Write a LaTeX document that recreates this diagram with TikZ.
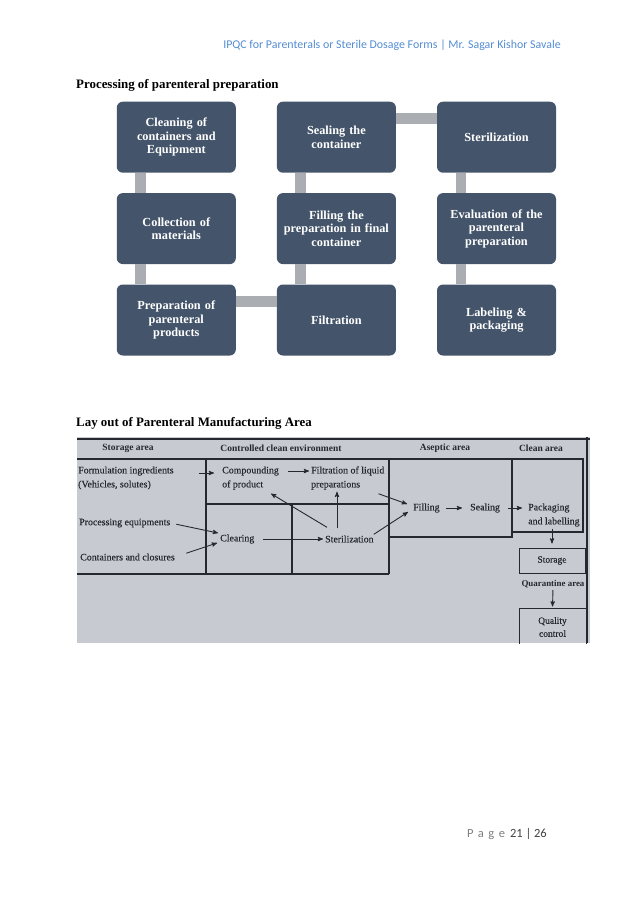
\documentclass[tikz,border=0pt]{standalone}
\usepackage{fontspec}
\setmainfont{Liberation Serif}
\newfontfamily\calibrifont{Carlito}
\newfontfamily\scanfont[FakeBold=0.25]{Liberation Serif}
\usetikzlibrary{arrows, positioning, calc}

\definecolor{boxblue}{RGB}{68,84,106}
\definecolor{bargray}{RGB}{170,173,178}
\definecolor{headblue}{RGB}{84,141,212}
\definecolor{scanbg}{RGB}{199,203,209}
\definecolor{scanink}{RGB}{38,40,48}
\definecolor{pagegray}{RGB}{127,127,127}
\definecolor{pagedark}{RGB}{64,64,64}

\begin{document}
\begin{tikzpicture}[x=1pt, y=-1pt, >=stealth',
    stepbox/.style={rectangle, fill=boxblue, rounded corners=6pt, minimum width=119pt, minimum height=71pt, text width=112pt, align=center, text=white, inner sep=2pt, font=\fontsize{12.3}{13.4}\selectfont\bfseries},
    linkbar/.style={draw=bargray, line width=10.5pt},
    heading/.style={anchor=west, inner sep=0pt, font=\fontsize{12.9}{14}\selectfont\bfseries},
    scantxt/.style={inner sep=0pt, text=scanink, align=left, font=\scanfont\fontsize{9.9}{14}\selectfont},
    scanhead/.style={inner sep=0pt, text=scanink, font=\fontsize{9.5}{12}\selectfont\bfseries},
    scanbox/.style={draw=scanink, line width=1pt, text=scanink, align=center, inner sep=0pt, font=\scanfont\fontsize{9.5}{13}\selectfont},
    wall/.style={draw=scanink, line width=1.1pt},
    flow/.style={->, draw=scanink, line width=0.9pt}
]
\useasboundingbox[fill=white] (0,0) rectangle (638,903);

% Running head and page number
\node[inner sep=0pt, text=headblue, font=\calibrifont\fontsize{11.9}{13}\selectfont] (runhead) at (392,45) {IPQC for Parenterals or Sterile Dosage Forms | Mr. Sagar Kishor Savale};
\node[anchor=east, inner sep=0pt, font=\calibrifont\fontsize{12.5}{14}\selectfont] (pageno) at (547,834) {\textcolor{pagegray}{P\hspace{4.5pt}a\hspace{4.5pt}g\hspace{4.5pt}e}\hspace{5pt}\textcolor{pagedark}{21 | 26}};

% Section titles
\node[heading] (proctitle) at (76,85) {Processing of parenteral preparation};
\node[heading] (laytitle) at (76,423) {Lay out of Parenteral Manufacturing Area};

% Process blocks (down, up, down)
\node[stepbox] (cleancont) at (176.3,137.2) {Cleaning of\\containers and\\Equipment};
\node[stepbox, below=20pt of cleancont] (collect) {Collection of\\materials};
\node[stepbox, below=20pt of collect] (prepprod) {Preparation of\\parenteral\\products};
\node[stepbox, right=40.7pt of prepprod] (filtr) {Filtration};
\node[stepbox, above=20pt of filtr] (fillcont) {Filling the\\preparation in final\\container};
\node[stepbox, above=20pt of fillcont] (sealcont) {Sealing the\\container};
\node[stepbox, right=40.7pt of sealcont] (steriliz) {Sterilization};
\node[stepbox, below=20pt of steriliz] (evalprep) {Evaluation of the\\parenteral\\preparation};
\node[stepbox, below=20pt of evalprep] (labelpack) {Labeling \&\\packaging};

% Gray links
\draw[linkbar] ([xshift=24pt]cleancont.south west) -- ([xshift=24pt]collect.north west);
\draw[linkbar] ([xshift=24pt]collect.south west) -- ([xshift=24pt]prepprod.north west);
\draw[linkbar] ([yshift=-17pt]prepprod.north east) -- ([yshift=-17pt]filtr.north west);
\draw[linkbar] ([xshift=24pt]filtr.north west) -- ([xshift=24pt]fillcont.south west);
\draw[linkbar] ([xshift=24pt]fillcont.north west) -- ([xshift=24pt]sealcont.south west);
\draw[linkbar] ([yshift=-17pt]sealcont.north east) -- ([yshift=-17pt]steriliz.north west);
\draw[linkbar] ([xshift=24pt]steriliz.south west) -- ([xshift=24pt]evalprep.north west);
\draw[linkbar] ([xshift=24pt]evalprep.south west) -- ([xshift=24pt]labelpack.north west);

% Manufacturing area layout
\fill[scanbg] (77,437) rectangle (590,643);
\begin{scope}
\clip (77,437) rectangle (590,643);
\draw[wall, line width=1.8pt] (77,439) -- (590,439);
\draw[wall] (77,459) -- (584,459);
\draw[wall] (587,437) -- (587,643);
\draw[wall] (77,574) -- (389,574);
\draw[wall] (206,459) -- (206,574);
\draw[wall] (206,504) -- (389,504);
\draw[wall] (292,504) -- (292,574);
\draw[wall] (389,459) -- (389,574);
\draw[wall] (389,537) -- (512,537) -- (512,459);
\draw[wall] (512,532) -- (583,532) -- (583,459);

\node[scanhead] (hstore) at (128,448) {Storage area};
\node[scanhead] (hctrl) at (281,448) {Controlled clean environment};
\node[scanhead] (hasep) at (445,448) {Aseptic area};
\node[scanhead] (hclean) at (541,448) {Clean area};

\node[scantxt, anchor=west] (formul) at (78,478) {Formulation ingredients\\(Vehicles, solutes)};
\node[scantxt, anchor=west] (compound) at (222,478) {Compounding\\of product};
\node[scantxt, anchor=west] (filtliq) at (311,478) {Filtration of liquid\\preparations};
\node[scantxt, anchor=west] (procequip) at (79,523) {Processing equipments};
\node[scantxt, anchor=west] (contclos) at (80,557) {Containers and closures};
\node[scantxt, anchor=west] (cleaning) at (220,539) {Clearing};
\node[scantxt, anchor=west] (steril) at (325,539) {Sterilization};
\node[scantxt, anchor=west] (filling) at (413,508) {Filling};
\node[scantxt, anchor=west] (sealing) at (470,508) {Sealing};
\node[scantxt, anchor=west] (packag) at (528,515) {Packaging\\and labelling};
\node[scanbox, minimum width=66pt, minimum height=25pt] (storage) at (552,560.5) {Storage};
\node[scanhead, font=\fontsize{8.9}{11}\selectfont\bfseries] (quarant) at (553,584) {Quarantine area};
\node[scanbox, minimum width=67pt, minimum height=38pt] (quality) at (552.5,627) {Quality\\control};

\draw[flow, shorten <=25pt, shorten >=8pt] ([yshift=5pt]formul.east) -- ([yshift=5pt]compound.west);
\draw[flow, shorten <=9pt, shorten >=2pt] ([yshift=7pt]compound.east) -- ([yshift=7pt]filtliq.west);
\draw[flow] ([shift={(-6,4)}]filtliq.south east) -- ([shift={(-6,-4)}]filling.west);
\draw[flow] ([shift={(0,-1)}]steril.north east) -- ([shift={(-5,4)}]filling.west);
\draw[flow] ([shift={(12,-7)}]steril.north west) -- ($(steril.north west |- filtliq.south)+(12,2)$);
\draw[flow] ([shift={(2,-8)}]steril.north west) -- ([shift={(-8,4)}]compound.south east);
\draw[flow, shorten <=9pt, shorten >=2pt] (cleaning.east) -- (steril.west);
\draw[flow, shorten <=6pt] (procequip.east) -- ([shift={(-2,-6)}]cleaning.west);
\draw[flow, shorten <=12pt] (contclos.east) -- ([shift={(-3,4)}]cleaning.west);
\draw[flow, shorten <=6pt, shorten >=8pt] (filling.east) -- (sealing.west);
\draw[flow, shorten <=8pt, shorten >=6pt] (sealing.east) -- ([yshift=7pt]packag.west);
\draw[flow, shorten <=2pt, shorten >=4pt] (packag.south -| storage.north) -- (storage.north);
\draw[flow, shorten <=2pt, shorten >=1pt] (quarant.south) -- (quality.north);
\end{scope}

\end{tikzpicture}
\end{document}
